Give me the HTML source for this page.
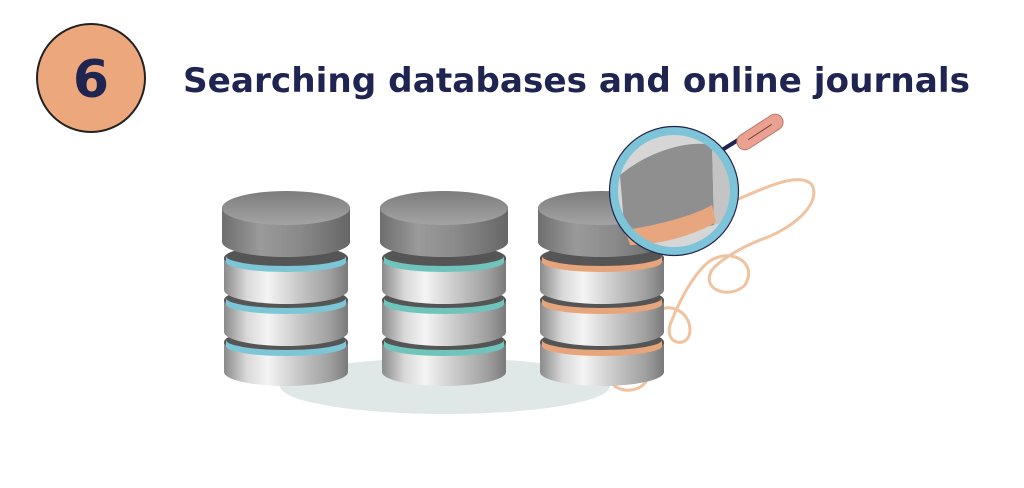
<!DOCTYPE html>
<html><head><meta charset="utf-8"><style>
html,body{margin:0;padding:0;background:#fff;width:1024px;height:488px;overflow:hidden}
</style></head><body>
<svg width="1024" height="488" viewBox="0 0 1024 488" xmlns="http://www.w3.org/2000/svg">
<defs>
<linearGradient id="body" x1="0" x2="1" y1="0" y2="0">
<stop offset="0" stop-color="#8a8a8a"/><stop offset="0.18" stop-color="#d8d8d8"/><stop offset="0.35" stop-color="#f4f4f4"/><stop offset="0.6" stop-color="#c8c8c8"/><stop offset="0.85" stop-color="#a0a0a0"/><stop offset="1" stop-color="#7a7a7a"/>
</linearGradient>
<linearGradient id="topbody" x1="0" x2="1" y1="0" y2="0">
<stop offset="0" stop-color="#6e6e6e"/><stop offset="0.3" stop-color="#9a9a9a"/><stop offset="0.6" stop-color="#8a8a8a"/><stop offset="1" stop-color="#666"/>
</linearGradient>
<linearGradient id="top" x1="0" x2="0" y1="0" y2="1">
<stop offset="0" stop-color="#7c7c7c"/><stop offset="1" stop-color="#a4a4a4"/>
</linearGradient>
<g id="cyl">
<path d="M2,152 L2,182 A62,14 0 0 0 126,182 L126,152 Z" fill="url(#body)"/>
<ellipse cx="64" cy="152" rx="62" ry="13" fill="#555"/>
<path d="M2,110 L2,142 A62,14 0 0 0 126,142 L126,110 Z" fill="url(#body)"/>
<ellipse cx="64" cy="110" rx="62" ry="13" fill="#555"/>
<path d="M2,68 L2,100 A62,14 0 0 0 126,100 L126,68 Z" fill="url(#body)"/>
<ellipse cx="64" cy="68" rx="62" ry="13" fill="#555"/>
<path d="M0,18 L0,52 A64,15 0 0 0 128,52 L128,18 Z" fill="url(#topbody)"/>
<ellipse cx="64" cy="18" rx="64" ry="17" fill="url(#top)"/>
</g>
</defs>

<circle cx="91" cy="78" r="54" fill="#eca77c" stroke="#222" stroke-width="2"/>
<text x="91" y="97" text-anchor="middle" font-family="'DejaVu Sans','Liberation Sans',sans-serif" font-weight="bold" font-size="52" fill="#1f2550">6</text>
<text x="183" y="92" textLength="787" lengthAdjust="spacingAndGlyphs" font-family="'DejaVu Sans','Liberation Sans',sans-serif" font-weight="bold" font-size="34" fill="#1f2550">Searching databases and online journals</text>

<ellipse cx="445" cy="386" rx="165" ry="28" fill="#dfe7e7"/>

<path d="M736,200 C760,190 800,170 812,185 C822,205 790,230 760,240 C740,248 720,260 712,270 C700,290 730,300 745,285 C760,260 725,245 705,265 C690,280 680,300 672,320 C660,345 690,350 690,330 C690,310 665,300 655,315 C645,330 640,345 648,360 C655,380 640,392 625,390 C612,388 605,378 610,368" fill="none" stroke="#f0c29e" stroke-width="3"/>

<g transform="translate(222,190)">
<use href="#cyl"/>
<path d="M4,66 A60,10 0 0 0 124,66 L124,72 A60,10 0 0 1 4,72Z" fill="#7cc6d6"/>
<path d="M4,108 A60,10 0 0 0 124,108 L124,114 A60,10 0 0 1 4,114Z" fill="#7cc6d6"/>
<path d="M4,150 A60,10 0 0 0 124,150 L124,156 A60,10 0 0 1 4,156Z" fill="#7cc6d6"/>
</g>
<g transform="translate(380,190)">
<use href="#cyl"/>
<path d="M4,66 A60,10 0 0 0 124,66 L124,72 A60,10 0 0 1 4,72Z" fill="#6fc4bc"/>
<path d="M4,108 A60,10 0 0 0 124,108 L124,114 A60,10 0 0 1 4,114Z" fill="#6fc4bc"/>
<path d="M4,150 A60,10 0 0 0 124,150 L124,156 A60,10 0 0 1 4,156Z" fill="#6fc4bc"/>
</g>
<g transform="translate(538,190)">
<use href="#cyl"/>
<path d="M4,66 A60,10 0 0 0 124,66 L124,72 A60,10 0 0 1 4,72Z" fill="#e6a57a"/>
<path d="M4,108 A60,10 0 0 0 124,108 L124,114 A60,10 0 0 1 4,114Z" fill="#e6a57a"/>
<path d="M4,150 A60,10 0 0 0 124,150 L124,156 A60,10 0 0 1 4,156Z" fill="#e6a57a"/>
</g>

<line x1="722" y1="150" x2="738" y2="140" stroke="#1f2550" stroke-width="4"/>
<g transform="translate(760,132) rotate(-33)">
<rect x="-26" y="-8" width="52" height="16" rx="8" fill="#eaa192" stroke="#b97a6c" stroke-width="1"/>
<line x1="-14" y1="0" x2="14" y2="0" stroke="#6a3b30" stroke-width="1"/>
</g>
<circle cx="674" cy="191" r="60" fill="#d6d6d6"/>
<path d="M620,175 C650,150 690,140 712,145 L714,225 C690,230 650,238 625,236 Z" fill="#8f8f8f"/>
<path d="M712,145 L730,160 L730,220 L714,225 Z" fill="#c4c4c4"/>
<path d="M625,230 C660,225 695,215 712,205 L716,222 C695,235 660,245 630,245 Z" fill="#e8a67e"/>
<circle cx="674" cy="191" r="60" fill="none" stroke="#7ec4d8" stroke-width="8"/>
<circle cx="674" cy="191" r="64.5" fill="none" stroke="#1f2550" stroke-width="1.2"/>
</svg>
</body></html>
